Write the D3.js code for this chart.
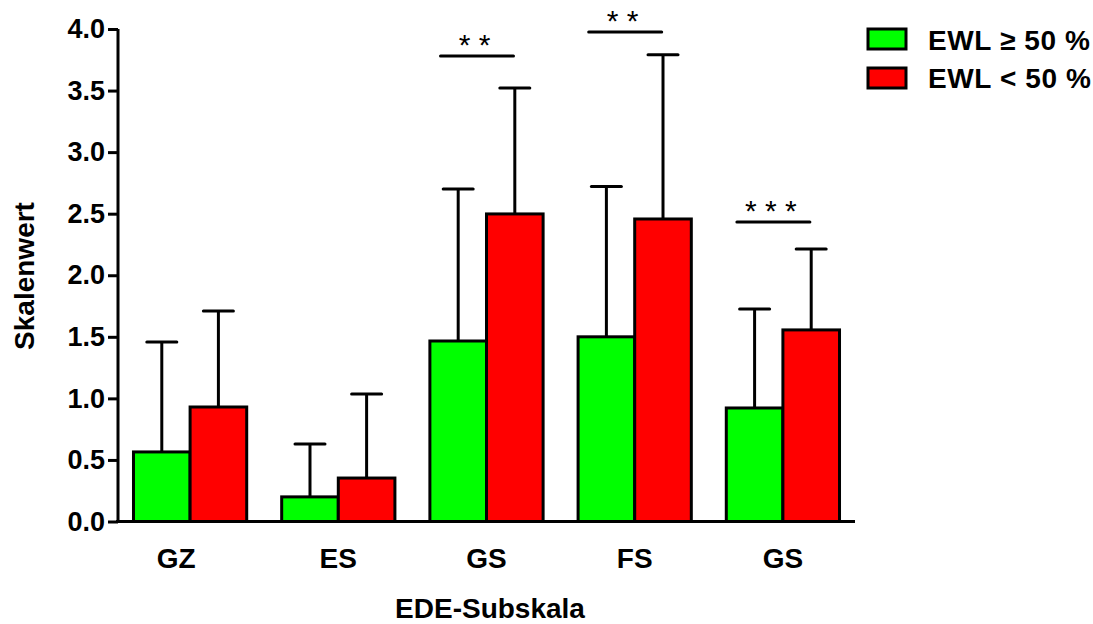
<!DOCTYPE html>
<html>
<head>
<meta charset="utf-8">
<script src="https://cdn.jsdelivr.net/npm/d3@7"></script>
<style>
  body { margin: 0; background: #fff; }
  text { font-family: "Liberation Sans", Arial, sans-serif; }
</style>
</head>
<body>
<div id="chart"></div>
<script>
// data
const categories = ["GZ", "ES", "GS", "FS", "GS"];
const seriesNames = ["EWL \u2265 50 %", "EWL < 50 %"];
const seriesColors = ["#00ff00", "#ff0000"];
const meanHigh = [0.565, 0.20, 1.466, 1.50, 0.922];   // EWL >= 50 %
const meanLow  = [0.93, 0.353, 2.498, 2.457, 1.556];  // EWL < 50 %
const sdTopHigh = [1.458, 0.63, 2.70, 2.72, 1.726];
const sdTopLow  = [1.71, 1.036, 3.52, 3.79, 2.214];
const yTicks = [0, 0.5, 1, 1.5, 2, 2.5, 3, 3.5, 4];
// significance brackets: group index, level, stars
const sigGroups = [2, 3, 4];
const sigLevels = [3.78, 3.976, 2.433];
const sigStars = ["* *", "* *", "* * *"];

const width = 1093;
const height = 624;

var svg = d3.select("#chart")
    .append("svg")
    .attr("width", width)
    .attr("height", height);

var y = d3.scaleLinear()
    .domain([0, 4])
    .range([521.5, 29]);

var x = d3.scaleBand()
    .domain(d3.range(categories.length))
    .range([118, 855])
    .paddingInner(0.236)
    .paddingOuter(0.1045);

var xSub = d3.scaleBand()
    .domain([0, 1])
    .range([0, x.bandwidth()]);

var rows = [];
categories.forEach(function(c, i) {
    rows.push({ g: i, s: 0, v: meanHigh[i], top: sdTopHigh[i] });
    rows.push({ g: i, s: 1, v: meanLow[i], top: sdTopLow[i] });
});

// error bars (upper only), drawn before bars
var err = svg.append("g")
    .attr("stroke", "#000")
    .attr("stroke-width", 3);

err.selectAll(".stem")
    .data(rows)
    .enter().append("line")
    .attr("x1", d => x(d.g) + xSub(d.s) + xSub.bandwidth() / 2)
    .attr("x2", d => x(d.g) + xSub(d.s) + xSub.bandwidth() / 2)
    .attr("y1", d => y(d.v))
    .attr("y2", d => y(d.top));

err.selectAll(".cap")
    .data(rows)
    .enter().append("line")
    .attr("stroke-linecap", "round")
    .attr("x1", d => x(d.g) + xSub(d.s) + xSub.bandwidth() / 2 - 15)
    .attr("x2", d => x(d.g) + xSub(d.s) + xSub.bandwidth() / 2 + 15)
    .attr("y1", d => y(d.top))
    .attr("y2", d => y(d.top));

// bars
svg.append("g").selectAll("rect")
    .data(rows)
    .enter().append("rect")
    .attr("x", d => x(d.g) + xSub(d.s))
    .attr("y", d => y(d.v))
    .attr("width", xSub.bandwidth())
    .attr("height", d => y(0) - y(d.v))
    .attr("fill", d => seriesColors[d.s])
    .attr("stroke", "#000")
    .attr("stroke-width", 3);

// y axis
var yAxis = d3.axisLeft(y)
    .tickValues(yTicks)
    .tickFormat(d3.format(".1f"))
    .tickSize(10)
    .tickPadding(3);

var gy = svg.append("g")
    .attr("transform", "translate(118,0)")
    .call(yAxis);
gy.select(".domain").attr("stroke-width", 3).attr("d", "M0," + y(4) + "V" + y(0));
gy.selectAll(".tick line").attr("stroke-width", 3);
gy.selectAll(".tick text")
    .attr("font-size", 27)
    .attr("font-weight", "bold")
    .attr("fill", "#000")
    .attr("font-family", "Liberation Sans, Arial, sans-serif");

// x axis line
svg.append("line")
    .attr("x1", 116)
    .attr("x2", 855)
    .attr("y1", y(0))
    .attr("y2", y(0))
    .attr("stroke", "#000")
    .attr("stroke-width", 3);

// category labels
svg.append("g").selectAll("text")
    .data(categories)
    .enter().append("text")
    .attr("x", (d, i) => x(i) + x.bandwidth() / 2 - (i === 0 ? 14 : 0))
    .attr("y", 568)
    .attr("text-anchor", "middle")
    .attr("font-size", 28)
    .attr("font-weight", "bold")
    .text(d => d);

// axis titles
svg.append("text")
    .attr("x", 490)
    .attr("y", 618)
    .attr("text-anchor", "middle")
    .attr("font-size", 28)
    .attr("font-weight", "bold")
    .text("EDE-Subskala");

svg.append("text")
    .attr("transform", "translate(34,276) rotate(-90)")
    .attr("text-anchor", "middle")
    .attr("font-size", 28)
    .attr("font-weight", "bold")
    .text("Skalenwert");

// significance markers
var sig = svg.append("g");
sigGroups.forEach(function(g, i) {
    var cx = x(g) + x.bandwidth() / 2;
    sig.append("line")
        .attr("x1", cx - 46)
        .attr("x2", cx + 27)
        .attr("y1", y(sigLevels[i]))
        .attr("y2", y(sigLevels[i]))
        .attr("stroke", "#000")
        .attr("stroke-width", 3)
        .attr("stroke-linecap", "round");
    sig.append("text")
        .attr("x", cx - 12)
        .attr("y", y(sigLevels[i]) - 1)
        .attr("text-anchor", "middle")
        .attr("font-size", 30)
        .text(sigStars[i]);
});

// legend
var legend = svg.append("g");
seriesNames.forEach(function(name, i) {
    legend.append("rect")
        .attr("x", 868)
        .attr("y", 29 + i * 39)
        .attr("width", 38)
        .attr("height", 20)
        .attr("fill", seriesColors[i])
        .attr("stroke", "#000")
        .attr("stroke-width", 3);
    legend.append("text")
        .attr("x", 928)
        .attr("y", 50 + i * 38)
        .attr("font-size", 28)
        .attr("font-weight", "bold")
        .attr("letter-spacing", 0.6)
        .text(name);
});
</script>
</body>
</html>
